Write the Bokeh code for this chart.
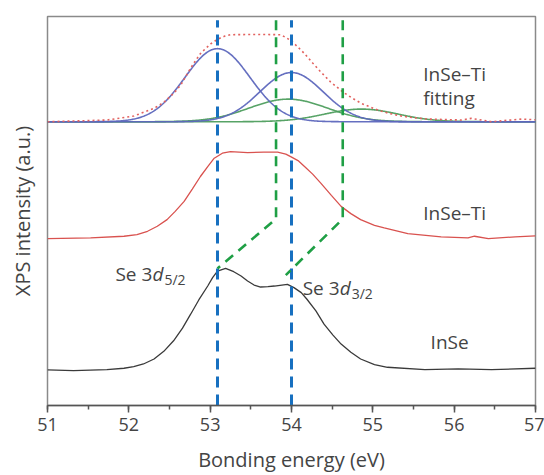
import numpy as np
from bokeh.plotting import figure
from bokeh.models import Label, SingleIntervalTicker, FixedTicker, Range1d
from bokeh.embed import file_html
from bokeh.resources import INLINE

# --- Se 3d spectra (binding energy in eV, stacked intensity in a.u.) ---
inse_energy = [51.0, 51.32, 51.73, 51.94, 52.06, 52.18, 52.31, 52.43, 52.55, 52.66,
               52.76, 52.86, 52.97, 53.03, 53.09, 53.19, 53.29, 53.38, 53.46, 53.54,
               53.62, 53.71, 53.79, 53.95, 54.03, 54.12, 54.19, 54.30, 54.40, 54.51,
               54.61, 54.73, 54.85, 55.02, 55.18, 55.64, 56.05, 56.46, 57.0]
inse_counts = [35.7, 35.0, 36.0, 37.4, 39.0, 41.7, 46.7, 54.4, 65.0, 77.7,
               91.7, 106.0, 120.0, 128.4, 135.0, 137.7, 134.4, 130.0, 125.0, 121.0,
               119.0, 119.4, 120.0, 121.7, 118.4, 113.4, 106.7, 95.0, 81.7, 70.7,
               61.7, 53.4, 46.7, 41.0, 38.4, 36.0, 36.7, 36.0, 37.4]

inseti_energy = [51.0, 51.53, 51.94, 52.10, 52.23, 52.35, 52.47, 52.57, 52.68, 52.78,
                 52.88, 52.97, 53.05, 53.15, 53.25, 53.46, 53.66, 53.83, 53.93, 53.99,
                 54.08, 54.16, 54.26, 54.36, 54.49, 54.61, 54.73, 54.85, 55.02, 55.14,
                 55.43, 55.84, 56.17, 56.25, 56.42, 56.75, 57.0]
inseti_counts = [167.7, 168.4, 170.0, 171.7, 175.0, 180.0, 186.7, 195.0, 205.0, 217.4,
                 230.0, 240.0, 248.4, 253.4, 255.0, 254.0, 254.4, 254.4, 252.4, 250.0,
                 246.0, 240.0, 232.4, 223.4, 211.0, 200.0, 192.7, 186.7, 181.0, 178.4,
                 172.7, 169.4, 168.4, 170.0, 167.7, 169.4, 170.4]

# InSe-Ti fitted envelope
envelope_energy = [51.0, 51.73, 52.06, 52.31, 52.43, 52.55, 52.64, 52.72, 52.80, 52.88,
                   52.95, 53.01, 53.07, 53.13, 53.18, 53.25, 53.58, 53.87, 53.99, 54.07,
                   54.16, 54.26, 54.36, 54.48, 54.63, 54.75, 54.86, 55.06, 55.20, 55.35,
                   55.50, 55.68, 56.09, 56.21, 56.46, 56.83, 57.0]
envelope_counts = [285.0, 286.7, 290.7, 298.4, 304.5, 313.4, 322.0, 333.4, 344.0, 353.4,
                   359.0, 363.4, 366.7, 369.4, 371.0, 372.4, 372.7, 372.4, 366.7, 360.7,
                   353.4, 344.0, 335.0, 325.0, 315.0, 308.5, 303.4, 296.7, 293.4, 290.7,
                   289.0, 287.7, 286.7, 288.4, 285.0, 287.7, 287.0]

# Fitted Gaussian components: centre (eV), height, sigma (eV)
fit_baseline = 285.0
blue_centres = [53.09, 54.00]
blue_heights = [73.4, 49.4]
blue_sigmas = [0.40, 0.39]
green_centres = [53.96, 54.86]
green_heights = [22.7, 12.7]
green_sigmas = [0.48, 0.45]

# Peak positions
inse_peaks = [53.09, 54.00]
inseti_peaks = [53.81, 54.63]
diag_low_energy = [53.09, 53.93]
diag_low_level = [137.7, 131.0]
shift_level = 187.4
line_top = 387.0

FONT = "Open Sans"
TEXT = "#444444"

p = figure(width=544, height=475, output_backend="svg", toolbar_location=None,
           x_range=Range1d(51, 57), y_range=Range1d(0, 390.7),
           min_border_left=47, min_border_right=9, min_border_top=16,
           min_border_bottom=68)
p.grid.visible = False
p.outline_line_color = "#8a8a8a"
p.outline_line_width = 1.5
p.background_fill_color = "white"
p.border_fill_color = "white"

xa = p.xaxis[0]
xa.ticker = SingleIntervalTicker(interval=1, num_minor_ticks=2)
xa.axis_line_color = "#555555"
xa.axis_line_width = 1.5
xa.major_tick_line_color = "#555555"
xa.major_tick_line_width = 1.5
xa.minor_tick_line_color = "#555555"
xa.minor_tick_line_width = 1.5
xa.major_tick_in = 0
xa.major_tick_out = 7
xa.minor_tick_in = 0
xa.minor_tick_out = 4
xa.major_label_text_font = FONT
xa.major_label_text_font_size = "18px"
xa.major_label_text_color = TEXT
xa.major_label_standoff = 5
xa.axis_label = "Bonding energy (eV)"
xa.axis_label_text_font = FONT
xa.axis_label_text_font_size = "20px"
xa.axis_label_text_font_style = "normal"
xa.axis_label_text_color = TEXT
xa.axis_label_standoff = 12

ya = p.yaxis[0]
ya.ticker = FixedTicker(ticks=[])
ya.axis_line_color = None
ya.major_tick_line_color = None
ya.minor_tick_line_color = None
ya.axis_label = "XPS intensity (a.u.)"
ya.axis_label_text_font = FONT
ya.axis_label_text_font_size = "20px"
ya.axis_label_text_font_style = "normal"
ya.axis_label_text_color = TEXT
ya.axis_label_standoff = 12

# Fitted components on the InSe-Ti background
grid_e = np.linspace(51, 57, 601)
for c, h, s in zip(green_centres, green_heights, green_sigmas):
    p.line(grid_e, fit_baseline + h * np.exp(-(grid_e - c) ** 2 / (2 * s * s)),
           line_color="#4e9e5e", line_width=1.6, line_alpha=0.95)
for c, h, s in zip(blue_centres, blue_heights, blue_sigmas):
    p.line(grid_e, fit_baseline + h * np.exp(-(grid_e - c) ** 2 / (2 * s * s)),
           line_color="#5d67bd", line_width=1.6, line_alpha=0.95)
p.line(envelope_energy, envelope_counts, line_color="#e2625f", line_width=1.6,
       line_dash="2 3")

# Measured spectra
p.line(inseti_energy, inseti_counts, line_color="#d9524f", line_width=1.3)
p.line(inse_energy, inse_counts, line_color="#3a3a3a", line_width=1.3)

# Peak guides
for e in inse_peaks:
    p.line([e, e], [0, line_top], line_color="#1770c0", line_width=3,
           line_dash="11 7")
for e_top, e_low, lv in zip(inseti_peaks, diag_low_energy, diag_low_level):
    p.line([e_top, e_top, e_low], [line_top, shift_level, lv],
           line_color="#1f9f45", line_width=2.6, line_dash="10 7")


def add_text(txt, x, y, size="19px", style="normal", xoff=0):
    p.add_layout(Label(x=x, y=y, text=txt, x_offset=xoff,
                       text_font=FONT, text_font_size=size,
                       text_font_style=style, text_color=TEXT,
                       text_baseline="alphabetic", text_align="left"))


add_text("InSe\u2013Ti", 55.62, 332.7)
add_text("fitting", 55.62, 308.4)
add_text("InSe\u2013Ti", 55.62, 193.4)
add_text("InSe", 55.71, 63.7)

# Se 3d labels with italic d and fractional subscript
for x0, y0, sub in [(51.835, 132.4, "5/2"), (54.137, 118.2, "3/2")]:
    add_text("Se 3", x0, y0)
    add_text("d", x0, y0, style="italic", xoff=37)
    add_text(sub, x0, y0 - 6, size="14px", xoff=49)

open("out.html", "w").write(file_html(p, INLINE))
